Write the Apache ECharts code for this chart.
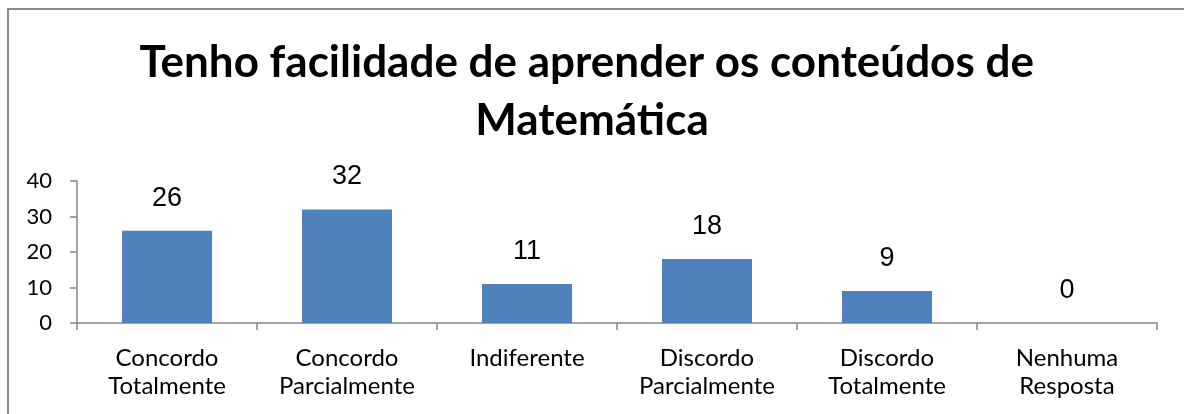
<!DOCTYPE html>
<html><head><meta charset="utf-8">
<script src="https://cdn.jsdelivr.net/npm/echarts@6/dist/echarts.min.js"></script>
<style>html,body{margin:0;padding:0;background:#fff}#c{width:1184px;height:414px}</style>
</head><body><div id="c"></div>
<script>
const titleText = 'Tenho facilidade de aprender os conteúdos de \nMatemática';
const categories = ['Concordo\nTotalmente', 'Concordo\nParcialmente', 'Indiferente', 'Discordo\nParcialmente', 'Discordo\nTotalmente', 'Nenhuma\nResposta'];
const values = [26, 32, 11, 18, 9, 0];
const yMin = 0, yMax = 40, yStep = 10;

const chart = echarts.init(document.getElementById('c'), null, {renderer: 'canvas'});
chart.setOption({
  animation: false,
  backgroundColor: '#fff',
  graphic: [{
    type: 'polyline', silent: true, z: -1,
    shape: {points: [[8, 430], [8, 9], [1190, 9]]},
    style: {fill: 'none', stroke: '#8a8a8a', lineWidth: 2}
  }],
  title: {
    text: titleText, left: 'center', top: 29,
    textStyle: {fontFamily: 'Lato', fontWeight: 'bold', fontSize: 44, color: '#000', lineHeight: 58}
  },
  grid: {left: 77, right: 27, top: 181, bottom: 91, containLabel: false},
  xAxis: {
    type: 'category', data: categories,
    axisLine: {lineStyle: {color: '#868686', width: 1.5}},
    axisTick: {show: true, length: 7, alignWithLabel: false, lineStyle: {color: '#868686', width: 1.5}},
    axisLabel: {fontFamily: 'Lato', fontSize: 24, color: '#000', lineHeight: 28, margin: 21, interval: 0}
  },
  yAxis: {
    type: 'value', min: yMin, max: yMax, interval: yStep,
    axisLine: {show: true, lineStyle: {color: '#868686', width: 1.5}},
    axisTick: {show: true, length: 7, lineStyle: {color: '#868686', width: 1.5}},
    splitLine: {show: false},
    axisLabel: {fontFamily: 'Lato', fontSize: 22, color: '#000', margin: 25}
  },
  series: [{
    type: 'bar', data: values, barWidth: '50%',
    itemStyle: {color: '#4F81BD'},
    label: {show: true, position: 'top', distance: 19, fontFamily: 'Liberation Sans', fontSize: 27, color: '#000'}
  }]
});
</script></body></html>
